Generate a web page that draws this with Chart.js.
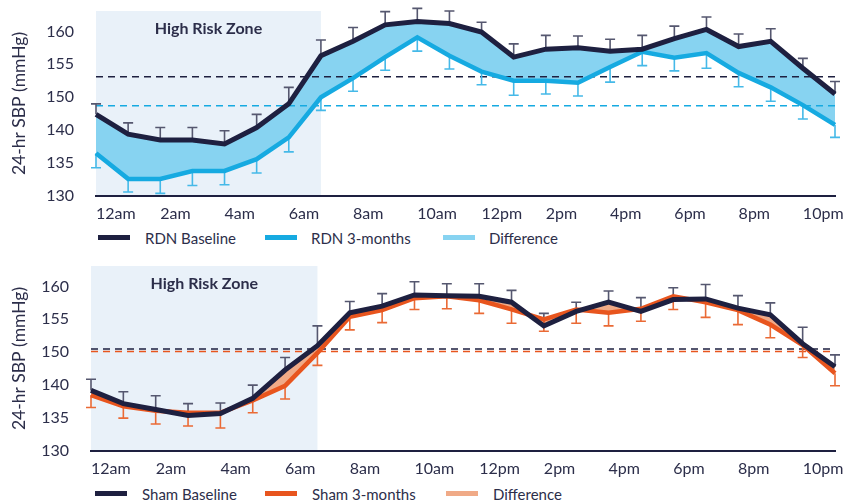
<!DOCTYPE html>
<html>
<head>
<meta charset="utf-8">
<script src="https://cdn.jsdelivr.net/npm/chart.js@4.4.1/dist/chart.umd.min.js"></script>
<style>
  body { margin: 0; background: #fff; width: 845px; height: 502px; overflow: hidden; position: relative; font-family: Lato, sans-serif; color: #2c2e4a; }
  .panel { position: absolute; left: 0; width: 845px; height: 225px; }
  .legend { position: absolute; left: 0; width: 845px; height: 20px; font-size: 15px; }
  .item { position: absolute; top: 0; height: 20px; display: flex; align-items: center; white-space: nowrap; }
  .sw { position: absolute; top: 0; width: 32px; height: 5px; }
</style>
</head>
<body>
<div class="panel" style="top:0"><canvas id="rdn" width="845" height="225"></canvas></div>
<div class="legend" style="top:228px">
  <div class="sw" style="left:98px;top:7px;background:#1e2040"></div><div class="item" style="left:145px">RDN Baseline</div>
  <div class="sw" style="left:265px;top:7px;background:#16aae1"></div><div class="item" style="left:311px">RDN 3-months</div>
  <div class="sw" style="left:443px;top:7px;background:#87d3f1"></div><div class="item" style="left:489px">Difference</div>
</div>
<div class="panel" style="top:255px"><canvas id="sham" width="845" height="225"></canvas></div>
<div class="legend" style="top:484px">
  <div class="sw" style="left:95px;top:7px;background:#1e2040"></div><div class="item" style="left:142px">Sham Baseline</div>
  <div class="sw" style="left:265px;top:7px;background:#e8551e"></div><div class="item" style="left:312px">Sham 3-months</div>
  <div class="sw" style="left:446px;top:7px;background:#f0aa87"></div><div class="item" style="left:493px">Difference</div>
</div>
<script>
// hours of the day, one point per hour, a label every 2 hours
const hours = ['12am','1am','2am','3am','4am','5am','6am','7am','8am','9am','10am','11am',
               '12pm','1pm','2pm','3pm','4pm','5pm','6pm','7pm','8pm','9pm','10pm','11pm']

// y ticks: positions on the axis and the labels printed on the original (no 145)
const yTickValues = [130, 135, 140, 145, 150, 155]
const yTickLabels = ['130', '135', '140', '150', '155', '160']

// high risk zone, from 12am to 7am
const zoneStart = 0
const zoneEnd = 7

// RDN group
const rdnBaseline    = [142.4,139.4,138.5,138.5,137.9,140.4,144.0,151.3,153.5,156.0,156.5,156.2,154.9,151.1,152.3,152.5,152.0,152.3,153.9,155.3,152.7,153.5,149.4,145.5]
const rdnBaselineErr = [1.6,1.7,1.9,1.9,2.0,2.0,2.5,2.4,2.1,2.0,2.0,1.9,1.5,2.0,2.1,1.8,1.8,2.1,1.9,1.9,1.9,1.9,1.5,1.9]
const rdn3m          = [136.5,132.6,132.6,133.8,133.8,135.6,138.9,145.0,147.9,151.1,154.1,151.3,148.9,147.5,147.5,147.2,149.6,151.9,151.0,151.7,148.7,146.5,143.8,140.8]
const rdn3mErr       = [2.2,2.0,2.2,2.2,2.1,2.1,2.2,2.0,2.0,2.0,2.1,2.0,2.0,2.2,2.0,2.0,2.3,2.1,2.0,2.3,2.1,2.1,2.1,1.9]
const rdnMeans       = [148.1, 143.7]

// Sham group
const shamBaseline    = [139.2,137.2,136.3,135.4,135.7,138.0,142.3,146.0,151.0,152.0,153.7,153.6,153.5,152.6,149.0,151.2,152.6,151.2,153.0,153.1,151.7,150.7,146.3,142.8]
const shamBaselineErr = [1.7,1.8,2.1,1.8,1.6,2.0,1.9,3.0,1.7,1.9,2.0,1.8,1.9,1.8,1.9,1.4,1.7,2.1,1.8,2.2,1.9,1.8,2.5,1.8]
const sham3m          = [138.5,136.8,136.1,135.8,135.8,137.7,139.9,144.9,150.4,151.4,153.2,153.5,152.9,151.5,150.0,151.5,151.0,151.6,153.5,152.6,151.4,149.2,146.1,141.8]
const sham3mErr       = [1.9,1.8,2.0,2.0,2.3,1.9,2.0,1.9,2.0,1.9,1.7,1.9,2.0,2.1,1.8,2.1,2.0,1.9,2.0,2.3,2.2,2.0,1.9,1.9]
const shamMeans       = [145.5, 145.1]

const NAVY = '#1e2040'
const TEXT = '#2c2e4a'

// zone background behind everything
const zone = {
  id: 'zone',
  beforeDraw(chart) {
    const { ctx, chartArea: a, scales: { x } } = chart
    const x0 = x.getPixelForValue(zoneStart), x1 = x.getPixelForValue(zoneEnd)
    ctx.save()
    ctx.fillStyle = '#e9f1f9'
    ctx.fillRect(x0, a.top, x1 - x0, a.bottom - a.top)
    ctx.fillStyle = TEXT
    ctx.font = 'bold 16px Lato'
    ctx.textAlign = 'center'
    ctx.textBaseline = 'middle'
    ctx.fillText('High Risk Zone', (x0 + x1) / 2, a.top + 18)
    ctx.restore()
  }
}

// dashed mean lines and error bars, over the fill, under the lines
const extras = {
  id: 'extras',
  beforeDatasetsDraw(chart, args, opts) {
    const { ctx, chartArea: a, scales: { y } } = chart
    ctx.save()
    ctx.lineWidth = 1.5
    ctx.setLineDash([7, 5])
    opts.means.forEach((m, i) => {
      const py = y.getPixelForValue(m)
      ctx.strokeStyle = opts.meanColors[i]
      ctx.beginPath()
      ctx.moveTo(a.left, py)
      ctx.lineTo(a.right, py)
      ctx.stroke()
    })
    ctx.setLineDash([])
    // error bars: baseline up, 3-months down
    chart.data.datasets.forEach((ds, di) => {
      if (!ds.errors) return
      const meta = chart.getDatasetMeta(di)
      ctx.strokeStyle = ds.errColor
      ctx.lineWidth = 1.6
      meta.data.forEach((pt, i) => {
        const yEnd = y.getPixelForValue(ds.data[i] + ds.errDir * ds.errors[i])
        ctx.beginPath()
        ctx.moveTo(pt.x, pt.y)
        ctx.lineTo(pt.x, yEnd)
        ctx.moveTo(pt.x - 5, yEnd)
        ctx.lineTo(pt.x + 5, yEnd)
        ctx.stroke()
      })
    })
    ctx.restore()
  }
}

function makeChart(id, base, baseErr, after, afterErr, means, c, yWidth, labels) {
  return new Chart(document.getElementById(id), {
    type: 'line',
    data: {
      labels: hours,
      datasets: [
        {
          label: labels[0], data: base, errors: baseErr, errDir: 1, errColor: '#55576f',
          borderColor: NAVY, borderWidth: 5, fill: '+1', backgroundColor: c.diff,
          pointRadius: 0, tension: 0
        },
        {
          label: labels[1], data: after, errors: afterErr, errDir: -1, errColor: c.err,
          borderColor: c.line, borderWidth: 4.5, fill: false,
          pointRadius: 0, tension: 0
        }
      ]
    },
    options: {
      responsive: false,
      animation: false,
      layout: { padding: { top: 11, right: 10, left: 0, bottom: 0 } },
      plugins: {
        legend: { display: false },
        tooltip: { enabled: false },
        filler: { drawTime: 'beforeDatasetsDraw' },
        extras: { means: means, meanColors: [NAVY, c.line] }
      },
      scales: {
        x: {
          offset: false,
          grid: { display: false, drawTicks: false },
          border: { display: true, color: NAVY, width: 2 },
          afterFit(s) { s.height = 29; s.paddingLeft = 0; s.paddingRight = 0 },
          ticks: {
            autoSkip: false, maxRotation: 0, align: 'start', padding: 8,
            color: TEXT, font: { family: 'Lato', size: 16 },
            callback: (v, i) => i % 2 === 0 ? hours[i] : ''
          }
        },
        y: {
          min: 130, max: 158.1,
          grid: { display: false, drawTicks: false },
          border: { display: false },
          afterFit(s) { s.width = yWidth; s.paddingTop = 0; s.paddingBottom = 0 },
          afterBuildTicks(s) { s.ticks = yTickValues.map(v => ({ value: v })) },
          ticks: {
            padding: 22, color: TEXT, font: { family: 'Lato', size: 16 },
            callback: v => yTickLabels[yTickValues.indexOf(v)]
          },
          title: {
            display: true, text: '24-hr SBP (mmHg)', color: TEXT,
            font: { family: 'Lato', size: 17.5 }, padding: { top: 9, bottom: 0 }
          }
        }
      }
    },
    plugins: [zone, extras]
  })
}

makeChart('rdn', rdnBaseline, rdnBaselineErr, rdn3m, rdn3mErr, rdnMeans,
  { line: '#16aae1', diff: '#87d3f1', err: '#45b9e8' }, 96, ['RDN Baseline', 'RDN 3-months'])
makeChart('sham', shamBaseline, shamBaselineErr, sham3m, sham3mErr, shamMeans,
  { line: '#e8551e', diff: '#f0aa87', err: '#ea6a35' }, 91, ['Sham Baseline', 'Sham 3-months'])
</script>
</body>
</html>
